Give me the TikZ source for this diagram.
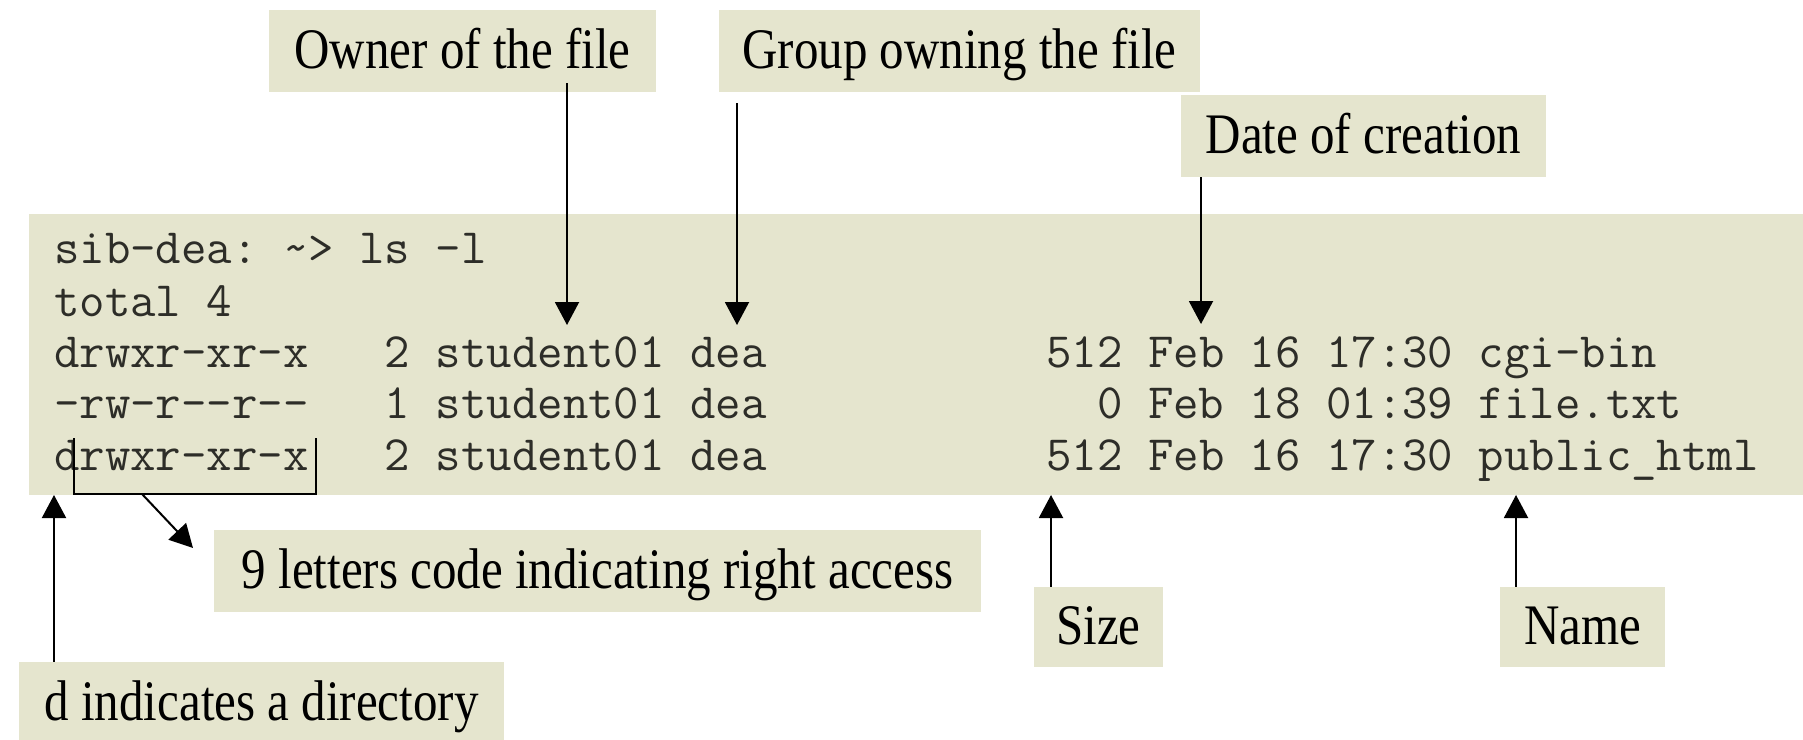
\documentclass[tikz,border=0pt]{standalone}
\usepackage{fontspec}
\newfontfamily\lblfont{Liberation Serif}
\usetikzlibrary{arrows.meta}

\definecolor{panel}{RGB}{229,229,206}
\definecolor{ink}{RGB}{45,45,40}

% labels are set taller than the font's natural shape
\newcommand{\tall}[1]{\scalebox{1}[1.17]{#1}}

\tikzset{
  lbl/.style={fill=panel, inner sep=0pt, text height=46pt, text depth=11pt,
              minimum height=82pt, align=center,
              font=\lblfont\fontsize{49}{58}\selectfont},
  termbox/.style={fill=panel, inner sep=0pt},
  row/.style={anchor=base west, inner sep=0pt, text=ink,
              font=\ttfamily\fontsize{49.4}{57}\selectfont\frenchspacing},
  arr/.style={draw=black, line width=2pt, -{Triangle[width=24pt,length=23pt]}},
  bracketline/.style={draw=black, line width=2pt},
}

\begin{document}
\begin{tikzpicture}[x=1pt,y=-1pt]
\useasboundingbox (0,0) rectangle (1803,739);
\clip (0,0) rectangle (1803,739);
\fill[white] (0,0) rectangle (1803,739);

% terminal panel with the listing
\node[termbox, minimum width=1774pt, minimum height=281pt] (term) at (916,354.5) {};

\node[row] (r1) at (54,263) {sib-dea:~\textasciitilde>~ls~-l};
\node[row] (r2) at (54,316) {total~4};
\node[row] (r3) at (54,367) {drwxr-xr-x~~~2~student01~dea~~~~~~~~~~~512~Feb~16~17:30~cgi-bin};
\node[row] (r4) at (54,418) {-rw-r-{}-r-{}-~~~1~student01~dea~~~~~~~~~~~~~0~Feb~18~01:39~file.txt};
\node[row] (r5) at (54,470) {drwxr-xr-x~~~2~student01~dea~~~~~~~~~~~512~Feb~16~17:30~public\_html};

% callout labels
\node[lbl, minimum width=387pt] (owner) at (462.5,51) {\tall{Owner of the file}};
\node[lbl, minimum width=481pt] (group) at (959.5,51) {\tall{Group owning the file}};
\node[lbl, minimum width=365pt] (date)  at (1363.5,136) {\tall{Date of creation}};
\node[lbl, minimum width=767pt] (nine)  at (597.5,571) {\tall{9 letters code indicating right access}};
\node[lbl, minimum width=129pt, minimum height=80pt] (size) at (1098.5,627) {\tall{Size}};
\node[lbl, minimum width=165pt, minimum height=80pt] (name) at (1582.5,627) {\tall{Name}};
\node[lbl, minimum width=485pt] (dir)   at (261.5,703) {\tall{d indicates a directory}};

% points in the listing that the labels refer to
\coordinate (ownerTip) at (567,325);
\coordinate (groupTip) at (737,325);
\coordinate (dateTip)  at (1201,324);
\coordinate (dirTip)   at (54,495);
\coordinate (sizeTip)  at (1051,495);
\coordinate (nameTip)  at (1516,495);
\coordinate (permFoot) at (142,494);
\coordinate (nineTip)  at (193,548);

% bracket under the nine permission letters
\draw[bracketline] (74,438) |- (316,494) -- (316,438);

% connectors
\draw[arr] ([yshift=9pt]owner.south -| ownerTip) -- (ownerTip);
\draw[arr] ([yshift=-11pt]group.south -| groupTip) -- (groupTip);
\draw[arr] (date.south -| dateTip) -- (dateTip);
\draw[arr] (dir.north -| dirTip) -- (dirTip);
\draw[arr] (size.north -| sizeTip) -- (sizeTip);
\draw[arr] (name.north -| nameTip) -- (nameTip);
\draw[arr] (permFoot) -- (nineTip);
\end{tikzpicture}
\end{document}
